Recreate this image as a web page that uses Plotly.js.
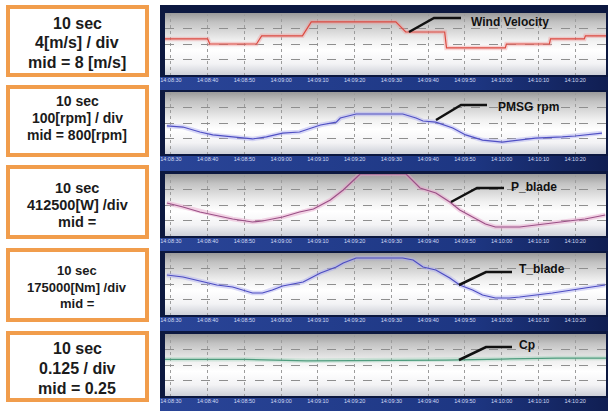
<!DOCTYPE html>
<html><head><meta charset="utf-8">
<script src="https://cdn.plot.ly/plotly-3.0.1.min.js"></script>
<style>html,body{margin:0;padding:0;background:#fff}#chart{width:608px;height:411px}</style>
</head><body><div id="chart"></div>
<script>
// Time axis: seconds after 14:08:30
const tickSeconds = [0,10,20,30,40,50,60,70,80,90,100,110];
const tickLabels = ["14:08:30","14:08:40","14:08:50","14:09:00","14:09:10","14:09:20","14:09:30","14:09:40","14:09:50","14:10:00","14:10:10","14:10:20"];

// Wind velocity [m/s]
const windT = [-1.6,10.0,10.6,23.3,24.7,35.8,38.2,61.2,63.9,74.5,75.0,91.0,91.3,103.0,103.3,112.5,112.8,118.4];
const windV = [9.3,9.3,8.0,8.0,10.1,10.1,13.7,13.7,11.1,11.1,7.0,7.0,8.0,8.0,9.3,9.3,10.1,10.1];

// PMSG speed [rpm]
const rpmT = [-1.1,3.3,7.9,11.4,16.8,22.2,26.0,30.4,35.0,40.7,45.0,46.1,50.4,63.1,66.7,68.6,72.1,76.7,80.2,84.8,90.2,94.9,99.2,106.5,110.0,117.3];
const rpmV = [781,774,742,723,710,697,710,735,742,787,806,832,858,858,832,813,806,768,723,690,677,690,703,710,716,735];

// Blade power [W]
const pT = [-1.1,3.3,7.9,12.5,16.8,22.2,24.9,30.4,35.0,38.8,43.4,46.9,49.6,51.5,64.0,67.8,72.1,75.9,78.6,82.1,85.6,88.3,94.9,103.8,112.7,118.2];
const pV = [1703000,1597000,1464000,1357000,1277000,1197000,1224000,1331000,1464000,1544000,1783000,2049000,2315000,2475000,2475000,2102000,1969000,1730000,1517000,1331000,1144000,1065000,1065000,1171000,1277000,1384000];

// Blade torque [Nm]
const tT = [-1.1,3.3,7.9,12.5,16.8,22.2,24.9,27.6,30.4,35.0,36.0,40.7,45.0,46.9,50.4,63.1,65.9,68.6,72.1,75.9,78.6,82.1,84.8,88.3,92.1,94.9,103.8,112.7,118.2];
const tV = [801600,779000,733900,688700,666100,598400,598400,632300,677400,711300,722600,824200,891900,937100,993500,993500,971000,891900,858100,767700,688700,632300,575800,541900,541900,553200,598400,654800,688700];

// Power coefficient Cp
const cpT = [-1.6,20,37,45,60,75,90,105,118.4];
const cpV = [0.296,0.296,0.284,0.285,0.290,0.290,0.298,0.306,0.306];

// Scale boxes
const boxLines = [
  ["10 sec","4[m/s] / div","mid = 8 [m/s]"],
  ["10 sec","100[rpm] / div","mid = 800[rpm]"],
  ["10 sec","412500[W] /div","mid ="],
  ["10 sec","175000[Nm] /div","mid ="],
  ["10 sec","0.125 / div","mid = 0.25"]
];
const seriesNames = ["Wind Velocity","PMSG rpm","P_blade","T_blade","Cp"];

const P_DIV = 412500, P_MID = 1650000;
const T_DIV = 175000, T_MID = 700000;

const W = 608, H = 411;
const px = x => x / W;
const py = y => 1 - y / H;

const panels = [
  {top:13, bot:75, range:[0,16], dtick:4, t:windT, v:windV, color:'#dc4a40', halo:'rgba(240,150,150,0.4)'},
  {top:92, bot:154, range:[600,1000], dtick:100, t:rpmT, v:rpmV, color:'#5050c4', halo:'rgba(170,170,240,0.45)'},
  {top:174, bot:236, range:[P_MID-2*P_DIV,P_MID+2*P_DIV], dtick:P_DIV, t:pT, v:pV, color:'#9a4f86', halo:'rgba(230,160,200,0.45)'},
  {top:253, bot:315, range:[T_MID-2*T_DIV,T_MID+2*T_DIV], dtick:T_DIV, t:tT, v:tV, color:'#4c4cc2', halo:'rgba(170,170,240,0.45)'},
  {top:334, bot:396, range:[0,0.5], dtick:0.125, t:cpT, v:cpV, color:'#4f9c7e', halo:'rgba(150,210,180,0.35)'}
];

function svgURI(svg){ return 'data:image/svg+xml;charset=utf-8,' + encodeURIComponent(svg); }
const plotGrad = svgURI("<svg xmlns='http://www.w3.org/2000/svg' width='10' height='100' viewBox='0 0 10 100' preserveAspectRatio='none'><defs><linearGradient id='g' x1='0' y1='0' x2='0' y2='1'><stop offset='0' stop-color='#9a9a9a'/><stop offset='0.15' stop-color='#c2c2c2'/><stop offset='0.45' stop-color='#f1f1f1'/><stop offset='0.6' stop-color='#ffffff'/><stop offset='0.82' stop-color='#f3f3f5'/><stop offset='1' stop-color='#cdd0d8'/></linearGradient></defs><rect width='10' height='100' fill='url(#g)'/></svg>");
const stripGrad = svgURI("<svg xmlns='http://www.w3.org/2000/svg' width='100' height='10' viewBox='0 0 100 10' preserveAspectRatio='none'><defs><linearGradient id='s' x1='0' y1='0' x2='1' y2='0'><stop offset='0' stop-color='#2a4598'/><stop offset='0.7' stop-color='#1d3682'/><stop offset='1' stop-color='#101e52'/></linearGradient></defs><rect width='100' height='10' fill='url(#s)'/></svg>");
const darkBg = svgURI("<svg xmlns='http://www.w3.org/2000/svg' width='10' height='10' viewBox='0 0 10 10' preserveAspectRatio='none'><rect width='10' height='10' fill='#0c1840'/></svg>");

const images = [];
images.push({source:darkBg, xref:'paper', yref:'paper', x:px(160), y:py(5), sizex:px(608)-px(160), sizey:py(5)-py(411), sizing:'stretch', layer:'below', xanchor:'left', yanchor:'top'});
const stripBounds = [[77,90],[156,171],[238,251],[317,331],[398,411]];
stripBounds.forEach(b => images.push({source:stripGrad, xref:'paper', yref:'paper', x:px(160), y:py(b[0]), sizex:px(608)-px(160), sizey:py(b[0])-py(b[1]), sizing:'stretch', layer:'below', xanchor:'left', yanchor:'top'}));
panels.forEach(p => images.push({source:plotGrad, xref:'paper', yref:'paper', x:px(165), y:py(p.top), sizex:px(606)-px(165), sizey:py(p.top)-py(p.bot), sizing:'stretch', layer:'below', xanchor:'left', yanchor:'top'}));

const layout = {
  width:W, height:H, margin:{l:0,r:0,t:0,b:0}, paper_bgcolor:'#ffffff', plot_bgcolor:'rgba(0,0,0,0)',
  showlegend:false, images:images, shapes:[], annotations:[]
};
const traces = [];
panels.forEach((p,i) => {
  const n = i===0 ? '' : String(i+1);
  layout['xaxis'+n] = {
    domain:[px(165), px(606)], range:[-1.6,118.4], anchor:'y'+n,
    tickmode:'array', tickvals:tickSeconds, ticktext:tickLabels, ticks:'',
    tickfont:{family:'Liberation Sans Narrow, Liberation Sans, Arial', size:5.5, color:'#d4dcf4'},
    showgrid:true, gridcolor:'#9c9c9c', griddash:'dot', gridwidth:1, zeroline:false, showline:false, fixedrange:true
  };
  layout['yaxis'+n] = {
    domain:[py(p.bot), py(p.top)], range:p.range, dtick:p.dtick, tick0:0, anchor:'x'+n,
    showticklabels:false, ticks:'', showgrid:true, gridcolor:'#8e8e8e', griddash:'dash', gridwidth:1,
    zeroline:false, showline:false, fixedrange:true
  };
  traces.push({x:p.t, y:p.v, xaxis:'x'+n, yaxis:'y'+n, mode:'lines', line:{color:p.halo, width:4.5}, hoverinfo:'skip'});
  traces.push({x:p.t, y:p.v, xaxis:'x'+n, yaxis:'y'+n, mode:'lines', line:{color:p.color, width:1.2}, name:seriesNames[i]});
});

// Orange scale boxes
const boxes = [[7,75],[87,155],[167,237],[250,320],[333,400]];
const lineY = [[23,43,62],[101,118,135],[188,205,222],[270,287,303],[348,368,388]];
const lineSize = [16,14,14.5,13,16];
boxes.forEach((b,i) => {
  layout.shapes.push({type:'rect', xref:'paper', yref:'paper', x0:px(8), x1:px(147), y0:py(b[1]), y1:py(b[0]), line:{color:'#f19d4c', width:4}, fillcolor:'#ffffff', layer:'below'});
  boxLines[i].forEach((t,j) => layout.annotations.push({
    text:t, xref:'paper', yref:'paper', x:px(77.5), y:py(lineY[i][j]), xanchor:'center', yanchor:'middle', showarrow:false,
    font:{family:'Liberation Sans, Arial', size:lineSize[i], color:'#1b1b1b', weight:'bold'}
  }));
});

// Series labels with pointer lines
const pointers = [
  {path:[[409,32],[434,18],[461,18]], tx:469, ty:22},
  {path:[[436,120],[461,105],[487,105]], tx:496, ty:107},
  {path:[[451,202],[477,188],[504,188]], tx:509, ty:187},
  {path:[[459,285],[486,272],[512,272]], tx:517, ty:269},
  {path:[[459,360],[486,347],[512,347]], tx:517, ty:345}
];
pointers.forEach((p,i) => {
  const d = p.path.map((q,k) => (k===0?'M':'L') + px(q[0]) + ',' + py(q[1])).join(' ');
  layout.shapes.push({type:'path', xref:'paper', yref:'paper', path:d, line:{color:'#111111', width:2.5}, layer:'above'});
  layout.annotations.push({text:seriesNames[i], xref:'paper', yref:'paper', x:px(p.tx), y:py(p.ty), xanchor:'left', yanchor:'middle', showarrow:false,
    font:{family:'Liberation Sans, Arial', size:12, color:'#111111', weight:'bold'}});
});

Plotly.newPlot('chart', traces, layout, {displayModeBar:false, staticPlot:true});
</script>
</body></html>
